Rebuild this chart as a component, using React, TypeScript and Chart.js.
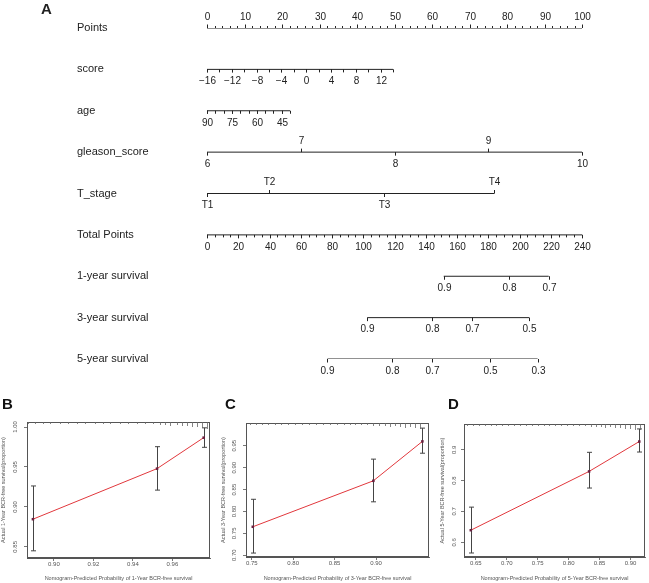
import React, { useEffect, useRef } from 'react';
import { Chart, registerables } from 'chart.js';
Chart.register(...registerables);

const FONT = '"Liberation Sans", Arial, Helvetica, sans-serif';
const INK = '#222';
const PLOT_INK = '#555';

// ---------------- Nomogram (A) ----------------
const rowNames = ['Points', 'score', 'age', 'gleason_score', 'T_stage', 'Total Points', '1-year survival', '3-year survival', '5-year survival'];
const pointsLabels = [0, 10, 20, 30, 40, 50, 60, 70, 80, 90, 100];
const pointsMinorStep = 2;
const scoreLabels = [-16, -12, -8, -4, 0, 4, 8, 12];
const scoreRange = [-16, 14];
const scoreStep = 2;
const scorePointsPerUnit = 1.654;
const ageLabels = [90, 75, 60, 45];
const ageRange = [90, 40];
const ageStep = 5;
const agePointsPerYear = 0.4427;
const gleasonValues = [6, 7, 8, 9, 10];
const gleasonSide = ['below', 'above', 'below', 'above', 'below'];
const tStageLabels = ['T1', 'T2', 'T3', 'T4'];
const tStagePoints = [0, 16.6, 47.2, 76.6];
const tStageSide = ['below', 'above', 'below', 'above'];
const totalLabels = [0, 20, 40, 60, 80, 100, 120, 140, 160, 180, 200, 220, 240];
const totalMinorStep = 5;
const surv1Probs = [0.9, 0.8, 0.7];
const surv1Totals = [151.5, 193, 218.7];
const surv3Probs = [0.9, 0.8, 0.7, 0.5];
const surv3Totals = [102.6, 144, 169.8, 206.2];
const surv5Probs = [0.9, 0.8, 0.7, 0.5, 0.3];
const surv5Totals = [77.1, 118.3, 144.3, 181.3, 211.6];

type Tick = { v: number; text?: string; side: string; len: number };
type Row = { name: string; axis: string; from: number; to: number; ticks: Tick[] };

function stepTicks(from: number, to: number, step: number, side: string, len: number): Tick[] {
  const out: Tick[] = [];
  const n = Math.round(Math.abs(to - from) / step);
  const dir = Math.sign(to - from);
  for (let k = 0; k <= n; k++) out.push({ v: from + dir * k * step, side, len });
  return out;
}
function textTicks(values: number[], texts: string[], sides: string[], len: number): Tick[] {
  return values.map((v, i) => ({ v, text: texts[i], side: sides[i], len }));
}
const same = (n: number, s: string) => Array.from({ length: n }, () => s);

const nomoRows: Row[] = [
  {
    name: rowNames[0], axis: 'x', from: 0, to: 100,
    ticks: [...stepTicks(0, 100, pointsMinorStep, 'above', 2), ...textTicks(pointsLabels, pointsLabels.map(String), same(pointsLabels.length, 'above'), 3.5)],
  },
  {
    name: rowNames[1], axis: 'xs', from: scoreRange[0], to: scoreRange[1],
    ticks: [...stepTicks(scoreRange[0], scoreRange[1], scoreStep, 'below', 3), ...textTicks(scoreLabels, scoreLabels.map((v) => (v < 0 ? '\u2212' + Math.abs(v) : String(v))), same(scoreLabels.length, 'below'), 3)],
  },
  {
    name: rowNames[2], axis: 'xa', from: ageRange[0], to: ageRange[1],
    ticks: [...stepTicks(ageRange[0], ageRange[1], ageStep, 'below', 3), ...textTicks(ageLabels, ageLabels.map(String), same(ageLabels.length, 'below'), 3)],
  },
  {
    name: rowNames[3], axis: 'xg', from: gleasonValues[0], to: gleasonValues[gleasonValues.length - 1],
    ticks: textTicks(gleasonValues, gleasonValues.map(String), gleasonSide, 3.5),
  },
  {
    name: rowNames[4], axis: 'x', from: tStagePoints[0], to: tStagePoints[tStagePoints.length - 1],
    ticks: textTicks(tStagePoints, tStageLabels, tStageSide, 3.5),
  },
  {
    name: rowNames[5], axis: 'xt', from: 0, to: 240,
    ticks: [...stepTicks(0, 240, totalMinorStep, 'below', 2.5), ...textTicks(totalLabels, totalLabels.map(String), same(totalLabels.length, 'below'), 3.5)],
  },
  {
    name: rowNames[6], axis: 'xt', from: surv1Totals[0], to: surv1Totals[surv1Totals.length - 1],
    ticks: textTicks(surv1Totals, surv1Probs.map(String), same(surv1Probs.length, 'below'), 3.5),
  },
  {
    name: rowNames[7], axis: 'xt', from: surv3Totals[0], to: surv3Totals[surv3Totals.length - 1],
    ticks: textTicks(surv3Totals, surv3Probs.map(String), same(surv3Probs.length, 'below'), 3.5),
  },
  {
    name: rowNames[8], axis: 'xt', from: surv5Totals[0], to: surv5Totals[surv5Totals.length - 1],
    ticks: textTicks(surv5Totals, surv5Probs.map(String), same(surv5Probs.length, 'below'), 3.5),
  },
];

const nomoPlugin = {
  id: 'nomoTicks',
  afterDatasetsDraw(chart: any) {
    const ctx = chart.ctx;
    const yS = chart.scales.y;
    ctx.save();
    ctx.strokeStyle = INK;
    ctx.fillStyle = INK;
    ctx.lineWidth = 1;
    ctx.font = `bold 15px ${FONT}`;
    ctx.textAlign = 'left';
    ctx.textBaseline = 'middle';
    ctx.fillText('A', 41, 10);
    nomoRows.forEach((row, i) => {
      const py = yS.getPixelForValue(i);
      ctx.font = `11px ${FONT}`;
      ctx.textAlign = 'left';
      ctx.textBaseline = 'middle';
      ctx.fillText(row.name, 77, py);
      const sc = chart.scales[row.axis];
      row.ticks.forEach((t) => {
        const px = Math.round(sc.getPixelForValue(t.v)) + 0.5;
        const dir = t.side === 'above' ? -1 : 1;
        ctx.beginPath();
        ctx.moveTo(px, py);
        ctx.lineTo(px, py + dir * t.len);
        ctx.stroke();
        if (t.text) {
          ctx.font = `10px ${FONT}`;
          ctx.textAlign = 'center';
          ctx.fillText(t.text, px, py + (t.side === 'above' ? -11 : 12));
        }
      });
    });
    ctx.restore();
  },
};

// ---------------- Calibration plots (B, C, D) ----------------
const bPredX = [0.8894, 0.9522, 0.9758];
const bObsY = [0.8846, 0.9479, 0.9867];
const bLo = [0.845, 0.921, 0.9746];
const bHi = [0.9262, 0.9754, 0.999];
const bRugX = [0.887, 0.8906, 0.8946, 0.8981, 0.9032, 0.9072, 0.9118, 0.9158, 0.9209, 0.9249, 0.9284, 0.9335, 0.9375, 0.9421, 0.9461, 0.9502, 0.9537, 0.9562, 0.9587, 0.9623, 0.9648, 0.9673, 0.9698, 0.9723, 0.9749, 0.9774];
const bRugH = [2, 2, 2, 2, 2, 2, 2, 2, 2, 2, 2, 2, 2, 2, 2, 2, 3, 3, 4, 3, 4, 4, 5, 5, 6, 7];
const bXTicks = [0.9, 0.92, 0.94, 0.96];
const bYTicks = [0.85, 0.9, 0.95, 1.0];

const cPredX = [0.7512, 0.8968, 0.956];
const cObsY = [0.765, 0.87, 0.96];
const cLo = [0.705, 0.822, 0.933];
const cHi = [0.8278, 0.9195, 0.9903];
const cRugX = [0.748, 0.7552, 0.7624, 0.7696, 0.778, 0.7852, 0.7936, 0.802, 0.8104, 0.8188, 0.8272, 0.8356, 0.844, 0.8524, 0.8608, 0.868, 0.8752, 0.8824, 0.8896, 0.8968, 0.904, 0.9112, 0.9172, 0.9232, 0.9292, 0.9352, 0.9412, 0.9472, 0.9532];
const cRugH = [2, 2, 2, 2, 2, 2, 2, 2, 2, 2, 2, 2, 2, 2, 2, 2, 2, 2, 2, 3, 3, 3, 4, 3, 4, 5, 4, 5, 6];
const cXTicks = [0.75, 0.8, 0.85, 0.9];
const cYTicks = [0.7, 0.75, 0.8, 0.85, 0.9, 0.95];

const dPredX = [0.642, 0.833, 0.914];
const dObsY = [0.639, 0.83, 0.927];
const dLo = [0.565, 0.776, 0.893];
const dHi = [0.714, 0.892, 0.968];
const dRugX = [0.6357, 0.6452, 0.6548, 0.6643, 0.6738, 0.6833, 0.6929, 0.7024, 0.7119, 0.7214, 0.731, 0.7405, 0.75, 0.7595, 0.769, 0.7786, 0.7881, 0.7976, 0.8071, 0.8167, 0.8262, 0.8357, 0.8437, 0.8516, 0.8595, 0.8675, 0.8754, 0.8833, 0.8913, 0.8992, 0.9071, 0.9151];
const dRugH = [2, 2, 2, 2, 2, 2, 2, 2, 2, 2, 2, 2, 2, 2, 2, 2, 2, 2, 2, 2, 2, 3, 3, 3, 4, 3, 4, 4, 5, 5, 6, 6];
const dXTicks = [0.65, 0.7, 0.75, 0.8, 0.85, 0.9];
const dYTicks = [0.6, 0.7, 0.8, 0.9];

type Calib = {
  letter: string; letterX: number; predX: number[]; obsY: number[]; lo: number[]; hi: number[];
  rugX: number[]; rugH: number[]; xMin: number; xMax: number; yMin: number; yMax: number;
  xTicks: number[]; yTicks: number[]; xDigits: number; yDigits: number; xTitle: string; yTitle: string;
  left: number; width: number; areaLeft: number; areaTop: number; padRight: number; xAxisH: number; yTitlePad: number;
};

const calibs: Calib[] = [
  {
    letter: 'B', letterX: 2, predX: bPredX, obsY: bObsY, lo: bLo, hi: bHi, rugX: bRugX, rugH: bRugH,
    xMin: 0.8864, xMax: 0.979, yMin: 0.836, yMax: 1.0063, xTicks: bXTicks, yTicks: bYTicks, xDigits: 2, yDigits: 2,
    xTitle: 'Nomogram-Predicted Probability of 1-Year BCR-free survival', yTitle: 'Actual 1-Year BCR-free survival(proportion)',
    left: 0, width: 215, areaLeft: 27, areaTop: 37, padRight: 5, xAxisH: 25, yTitlePad: 0,
  },
  {
    letter: 'C', letterX: 10, predX: cPredX, obsY: cObsY, lo: cLo, hi: cHi, rugX: cRugX, rugH: cRugH,
    xMin: 0.743, xMax: 0.964, yMin: 0.696, yMax: 1.002, xTicks: cXTicks, yTicks: cYTicks, xDigits: 2, yDigits: 2,
    xTitle: 'Nomogram-Predicted Probability of 3-Year BCR-free survival', yTitle: 'Actual 3-Year BCR-free survival(proportion)',
    left: 215, width: 218, areaLeft: 31, areaTop: 38, padRight: 3, xAxisH: 26, yTitlePad: 5,
  },
  {
    letter: 'D', letterX: 15, predX: dPredX, obsY: dObsY, lo: dLo, hi: dHi, rugX: dRugX, rugH: dRugH,
    xMin: 0.631, xMax: 0.9233, yMin: 0.552, yMax: 0.984, xTicks: dXTicks, yTicks: dYTicks, xDigits: 2, yDigits: 1,
    xTitle: 'Nomogram-Predicted Probability of 5-Year BCR-free survival', yTitle: 'Actual 5-Year BCR-free survival(proportion)',
    left: 433, width: 216, areaLeft: 31, areaTop: 39, padRight: 1, xAxisH: 26, yTitlePad: 6,
  },
];

const CAL_H = 198;
const CAL_TOP = 385;

function calibConfig(c: Calib): any {
  const plugin = {
    id: 'calibExtras',
    beforeDatasetsDraw(chart: any) {
      const { ctx, scales } = chart;
      const xs = scales.x, ys = scales.y;
      ctx.save();
      ctx.strokeStyle = '#444';
      ctx.lineWidth = 1;
      c.predX.forEach((x, i) => {
        const px = Math.round(xs.getPixelForValue(x)) + 0.5;
        const pLo = ys.getPixelForValue(c.lo[i]);
        const pHi = ys.getPixelForValue(c.hi[i]);
        ctx.beginPath();
        ctx.moveTo(px, pLo); ctx.lineTo(px, pHi);
        ctx.moveTo(px - 2.5, pLo); ctx.lineTo(px + 2.5, pLo);
        ctx.moveTo(px - 2.5, pHi); ctx.lineTo(px + 2.5, pHi);
        ctx.stroke();
      });
      ctx.restore();
    },
    afterDraw(chart: any) {
      const { ctx, chartArea, scales } = chart;
      ctx.save();
      ctx.strokeStyle = PLOT_INK;
      ctx.lineWidth = 1;
      ctx.strokeRect(chartArea.left + 0.5, chartArea.top + 0.5, chartArea.right - chartArea.left - 1, chartArea.bottom - chartArea.top - 1);
      ctx.lineWidth = 0.8;
      ctx.strokeStyle = '#666';
      c.rugX.forEach((x, i) => {
        const px = Math.round(scales.x.getPixelForValue(x)) + 0.5;
        ctx.beginPath();
        ctx.moveTo(px, chartArea.top);
        ctx.lineTo(px, chartArea.top + c.rugH[i]);
        ctx.stroke();
      });
      ctx.fillStyle = '#111';
      ctx.font = `bold 15px ${FONT}`;
      ctx.textAlign = 'left';
      ctx.textBaseline = 'middle';
      ctx.fillText(c.letter, c.letterX, 20);
      ctx.restore();
    },
  };
  return {
    type: 'scatter',
    data: {
      datasets: [
        {
          data: c.predX.map((x, i) => ({ x, y: c.obsY[i] })),
          showLine: true,
          borderColor: 'rgb(225,55,60)',
          borderWidth: 1,
          pointStyle: 'rect',
          pointRadius: 1.8,
          pointBackgroundColor: '#6a1f3f',
          pointBorderColor: '#6a1f3f',
          pointBorderWidth: 0,
        },
      ],
    },
    options: {
      responsive: false,
      animation: false,
      devicePixelRatio: 1,
      layout: { padding: { top: c.areaTop, right: c.padRight, left: 0, bottom: 0 } },
      plugins: { legend: { display: false }, tooltip: { enabled: false } },
      scales: {
        x: {
          type: 'linear', min: c.xMin, max: c.xMax,
          afterFit: (s: any) => { s.height = c.xAxisH; },
          afterBuildTicks: (s: any) => { s.ticks = c.xTicks.map((v) => ({ value: v })); },
          grid: { drawOnChartArea: false, drawTicks: true, tickLength: 3, color: PLOT_INK, lineWidth: 0.8 },
          border: { display: true, color: PLOT_INK, width: 1 },
          ticks: {
            font: { size: 6, family: FONT }, color: PLOT_INK, padding: 0, maxRotation: 0, minRotation: 0, autoSkip: false,
            callback: (v: any) => Number(v).toFixed(c.xDigits),
          },
          title: { display: true, text: c.xTitle, font: { size: 5.5, family: FONT }, color: PLOT_INK, padding: { top: 0, bottom: 1 } },
        },
        y: {
          type: 'linear', min: c.yMin, max: c.yMax,
          afterFit: (s: any) => { s.width = c.areaLeft; },
          afterBuildTicks: (s: any) => { s.ticks = c.yTicks.map((v) => ({ value: v })); },
          grid: { drawOnChartArea: false, drawTicks: true, tickLength: 3, color: PLOT_INK, lineWidth: 0.8 },
          border: { display: true, color: PLOT_INK, width: 1 },
          ticks: {
            font: { size: 6, family: FONT }, color: PLOT_INK, padding: 2.5, minRotation: 90, maxRotation: 90,
            crossAlign: 'center', autoSkip: false,
            callback: (v: any) => Number(v).toFixed(c.yDigits),
          },
          title: { display: true, text: c.yTitle, font: { size: 5.5, family: FONT }, color: PLOT_INK, padding: { top: c.yTitlePad, bottom: 0 } },
        },
      },
    },
    plugins: [plugin],
  };
}

export default function App() {
  const nomoRef = useRef<HTMLCanvasElement | null>(null);
  const bRef = useRef<HTMLCanvasElement | null>(null);
  const cRef = useRef<HTMLCanvasElement | null>(null);
  const dRef = useRef<HTMLCanvasElement | null>(null);

  useEffect(() => {
    const charts: Chart[] = [];
    if (nomoRef.current) {
      const datasets = nomoRows.map((row, i) => ({
        data: [{ x: row.from, y: i }, { x: row.to, y: i }],
        xAxisID: row.axis,
        showLine: true,
        borderColor: INK,
        borderWidth: 1,
        pointRadius: 0,
      }));
      charts.push(
        new Chart(nomoRef.current, {
          type: 'scatter',
          data: { datasets } as any,
          options: {
            responsive: false,
            animation: false,
            devicePixelRatio: 1,
            layout: { padding: { left: 207, right: 67, top: 28, bottom: 26 } },
            plugins: { legend: { display: false }, tooltip: { enabled: false } },
            scales: {
              x: { type: 'linear', axis: 'x', min: 0, max: 100, display: false },
              xt: { type: 'linear', axis: 'x', min: 0, max: 240, display: false },
              xs: { type: 'linear', axis: 'x', min: scoreRange[0], max: scoreRange[0] + 100 / scorePointsPerUnit, display: false },
              xa: { type: 'linear', axis: 'x', min: ageRange[0] - 100 / agePointsPerYear, max: ageRange[0], reverse: true, display: false },
              xg: { type: 'linear', axis: 'x', min: gleasonValues[0], max: gleasonValues[gleasonValues.length - 1], display: false },
              y: { type: 'linear', min: 0, max: rowNames.length - 1, reverse: true, display: false },
            },
          } as any,
          plugins: [nomoPlugin],
        })
      );
    }
    [bRef, cRef, dRef].forEach((r, i) => {
      if (r.current) charts.push(new Chart(r.current, calibConfig(calibs[i])));
    });
    return () => charts.forEach((ch) => ch.destroy());
  }, []);

  return (
    <div style={{ position: 'absolute', left: 0, top: 0, width: 649, height: 583, background: '#fff', overflow: 'hidden' }}>
      <canvas ref={nomoRef} width={649} height={385} style={{ position: 'absolute', left: 0, top: 0, width: 649, height: 385 }} />
      <canvas ref={bRef} width={calibs[0].width} height={CAL_H} style={{ position: 'absolute', left: calibs[0].left, top: CAL_TOP, width: calibs[0].width, height: CAL_H }} />
      <canvas ref={cRef} width={calibs[1].width} height={CAL_H} style={{ position: 'absolute', left: calibs[1].left, top: CAL_TOP, width: calibs[1].width, height: CAL_H }} />
      <canvas ref={dRef} width={calibs[2].width} height={CAL_H} style={{ position: 'absolute', left: calibs[2].left, top: CAL_TOP, width: calibs[2].width, height: CAL_H }} />
    </div>
  );
}
